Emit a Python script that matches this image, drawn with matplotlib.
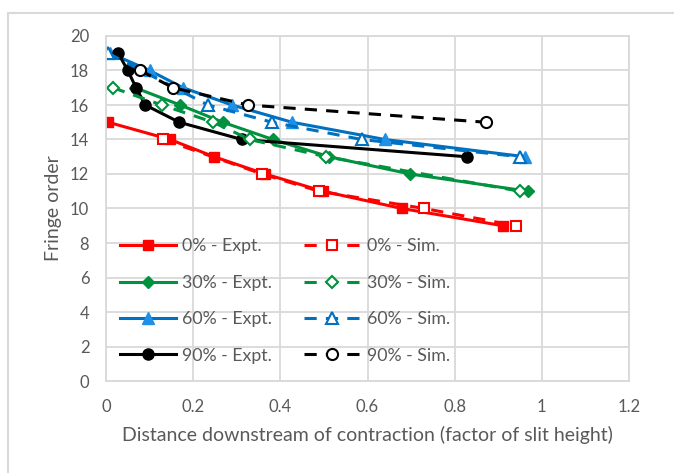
import matplotlib
matplotlib.use("Agg")
import matplotlib.pyplot as plt
from matplotlib.patches import Rectangle

plt.rcParams['font.family'] = ['Lato', 'DejaVu Sans']

# Experimental and simulated fringe orders vs distance downstream
x0_expt = [0.005, 0.147, 0.248, 0.365, 0.498, 0.679, 0.911]
y0_expt = [15, 14, 13, 12, 11, 10, 9]
x0_sim = [0.131, 0.358, 0.489, 0.730, 0.941]
y0_sim = [14, 12, 11, 10, 9]

x30_expt = [0.067, 0.170, 0.268, 0.383, 0.512, 0.698, 0.968]
y30_expt = [17, 16, 15, 14, 13, 12, 11]
x30_sim = [0.016, 0.128, 0.246, 0.330, 0.505, 0.950]
y30_sim = [17, 16, 15, 14, 13, 11]

x60_expt = [0.010, 0.100, 0.177, 0.289, 0.427, 0.640, 0.962]
y60_expt = [19, 18, 17, 16, 15, 14, 13]
x60_sim = [0.005, 0.234, 0.381, 0.587, 0.950]
y60_sim = [19, 16, 15, 14, 13]

x90_expt = [0.028, 0.050, 0.069, 0.090, 0.168, 0.312, 0.828]
y90_expt = [19, 18, 17, 16, 15, 14, 13]
x90_sim = [0.078, 0.154, 0.326, 0.872]
y90_sim = [18, 17, 16, 15]

fig = plt.figure(figsize=(6.74, 4.73), dpi=100)
ax = fig.add_axes([106 / 674, 1 - 381 / 473, (629 - 106) / 674, (381 - 36) / 473])

# outer chart frame
fig.patches.append(Rectangle((8 / 674, -0.1), 1.2, (473 - 13) / 473 + 0.1,
                             transform=fig.transFigure, fill=False,
                             edgecolor='#d9d9d9', lw=1.5))

red, green, blue, black = '#ff0000', '#00923f', '#0070c0', '#000000'
lw = 2.2
ax.plot(x0_expt, y0_expt, '-', color=red, lw=lw, marker='s', ms=7, label='0% - Expt.')
ax.plot(x30_expt, y30_expt, '-', color=green, lw=lw, marker='D', ms=6, label='30% - Expt.')
ax.plot(x60_expt, y60_expt, '-', color=blue, lw=lw, marker='^', ms=8,
        mfc='#1f8fe8', mec='#1f8fe8', label='60% - Expt.')
ax.plot(x90_expt, y90_expt, '-', color=black, lw=lw, marker='o', ms=8, label='90% - Expt.')

dash = (0, (4, 3))
ax.plot(x0_sim, y0_sim, linestyle=dash, color=red, lw=lw, marker='s', ms=7,
        mfc='white', mew=1.5, label='0% - Sim.')
ax.plot(x30_sim, y30_sim, linestyle=dash, color=green, lw=lw, marker='D', ms=6,
        mfc='white', mew=1.5, label='30% - Sim.')
ax.plot(x60_sim, y60_sim, linestyle=dash, color=blue, lw=lw, marker='^', ms=8,
        mfc='white', mew=1.5, label='60% - Sim.')
ax.plot(x90_sim, y90_sim, linestyle=dash, color=black, lw=lw, marker='o', ms=8,
        mfc='white', mew=1.5, label='90% - Sim.')

ax.set_xlim(0, 1.2)
ax.set_ylim(0, 20)
ax.set_xticks([0, 0.2, 0.4, 0.6, 0.8, 1.0, 1.2])
ax.set_xticklabels(['0', '0.2', '0.4', '0.6', '0.8', '1', '1.2'])
ax.set_yticks(range(0, 21, 2))
ax.grid(True, color='#d9d9d9', lw=1.3)
ax.set_axisbelow(True)
for s in ax.spines.values():
    s.set_color('#d9d9d9')
    s.set_linewidth(1.3)
ax.tick_params(length=0, labelsize=12, colors='#595959')
ax.tick_params(axis='x', pad=13)
ax.tick_params(axis='y', pad=12)
ax.set_xlabel('Distance downstream of contraction (factor of slit height)',
              fontsize=14, color='#595959', labelpad=8)
ax.set_ylabel('Fringe order', fontsize=14, color='#595959', labelpad=6)

leg = ax.legend(ncol=2, loc='center left', bbox_to_anchor=(0.017, 0.232),
                frameon=False, fontsize=12.8, labelcolor='#595959',
                handlelength=3.15, columnspacing=1.8, labelspacing=1.15,
                handletextpad=0.35, borderaxespad=0.0, borderpad=0.3)

fig.savefig('out.png', dpi=100, facecolor='white')
